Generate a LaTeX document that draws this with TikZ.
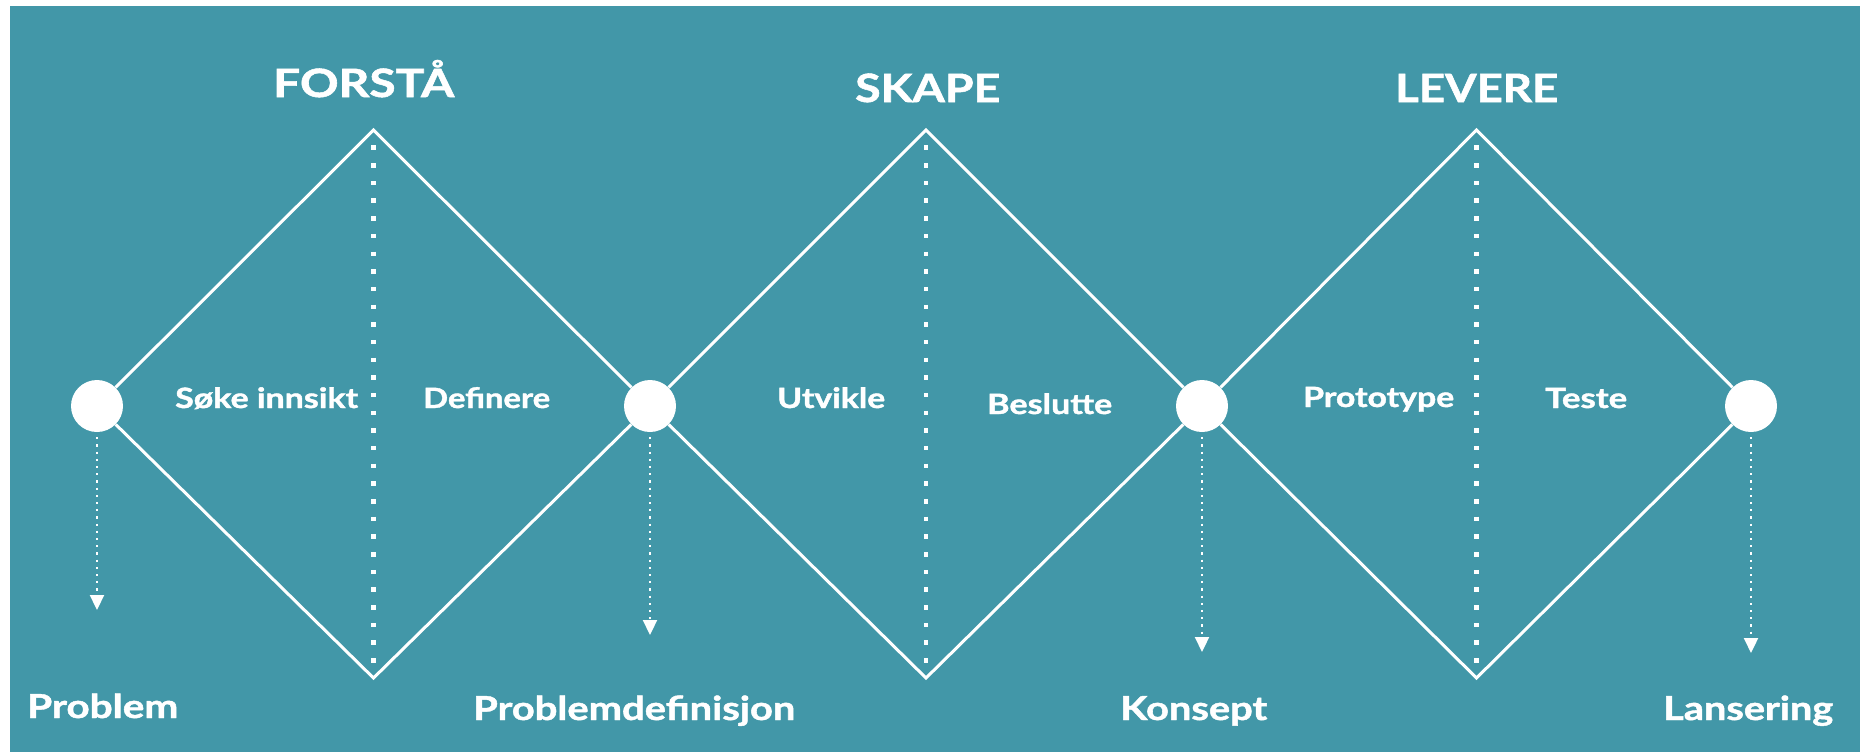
\documentclass[tikz,border=0pt]{standalone}
\usepackage{fontspec}
\setmainfont{Lato}[BoldFeatures={FakeBold=1.3}]
\usetikzlibrary{arrows.meta}
\definecolor{bgteal}{RGB}{66,151,168}
\newcommand{\fitw}[2]{\resizebox{#1}{\height}{#2}}
\tikzset{
  ttl/.style={text=white, inner sep=0pt, anchor=base west, font=\bfseries\fontsize{39}{39}\selectfont},
  inlab/.style={text=white, inner sep=0pt, anchor=base west, font=\bfseries\fontsize{28}{28}\selectfont},
  botlab/.style={text=white, inner sep=0pt, anchor=base west, font=\bfseries\fontsize{33}{33}\selectfont},
  dot/.style={circle, fill=white, draw=none, minimum size=52pt, inner sep=0pt},
  edge/.style={draw=white, line width=3pt},
  midline/.style={draw=white, line width=4.5pt, dash pattern=on 4.5pt off 13.18pt, dash phase=2.25pt},
  outarrow/.style={draw=white, line width=2.2pt, dash pattern=on 2.2pt off 5pt, shorten <=5pt, -{Triangle[width=14pt,length=15pt]}}
}
\begin{document}
\begin{tikzpicture}[x=1pt,y=-1pt]
\useasboundingbox (0,0) rectangle (1860,753);
\fill[white] (0,0) rectangle (1860,753);
\fill[bgteal] (10,6) rectangle (1860,752);

% circles
\node[dot] (c1) at (97,406) {};
\node[dot] (c2) at (650,406) {};
\node[dot] (c3) at (1202,406) {};
\node[dot] (c4) at (1751,406) {};

% diamond vertices
\coordinate (t1) at (373.5,130);
\coordinate (b1) at (373.5,678);
\coordinate (t2) at (926,130);
\coordinate (b2) at (926,678);
\coordinate (t3) at (1476.5,130);
\coordinate (b3) at (1476.5,678);

% dotted midlines
\draw[midline] (t1) -- (b1);
\draw[midline] (t2) -- (b2);
\draw[midline] (t3) -- (b3);

% diamonds
\draw[edge] (c1) -- (t1) -- (c2);
\draw[edge] (c1) -- (b1) -- (c2);
\draw[edge] (c2) -- (t2) -- (c3);
\draw[edge] (c2) -- (b2) -- (c3);
\draw[edge] (c3) -- (t3) -- (c4);
\draw[edge] (c3) -- (b3) -- (c4);

% arrows down
\coordinate (a1) at (97,610);
\coordinate (a2) at (650,635);
\coordinate (a3) at (1202,652);
\coordinate (a4) at (1751,653);
\draw[outarrow] (c1.south) -- (a1);
\draw[outarrow] (c2.south) -- (a2);
\draw[outarrow] (c3.south) -- (a3);
\draw[outarrow] (c4.south) -- (a4);

% titles
\node[ttl] (forsta) at (273,97) {\fitw{181pt}{FORSTÅ}};
\node[ttl] (skape) at (855,102) {\fitw{145pt}{SKAPE}};
\node[ttl] (levere) at (1395,102) {\fitw{163pt}{LEVERE}};

% inner labels
\node[inlab] (soke) at (175,408) {\fitw{183pt}{Søke innsikt}};
\node[inlab] (def) at (423,408) {\fitw{127pt}{Definere}};
\node[inlab] (utv) at (777,408) {\fitw{108pt}{Utvikle}};
\node[inlab] (bes) at (987,414) {\fitw{125pt}{Beslutte}};
\node[inlab] (pro) at (1303,407) {\fitw{151pt}{Prototype}};
\node[inlab] (tes) at (1545,408) {\fitw{82pt}{Teste}};

% bottom labels
\node[botlab] (l1) at (27,718) {\fitw{151pt}{Problem}};
\node[botlab] (l2) at (473,720) {\fitw{322pt}{Problemdefinisjon}};
\node[botlab] (l3) at (1120,720) {\fitw{147pt}{Konsept}};
\node[botlab] (l4) at (1663,720) {\fitw{170pt}{Lansering}};
\end{tikzpicture}
\end{document}
